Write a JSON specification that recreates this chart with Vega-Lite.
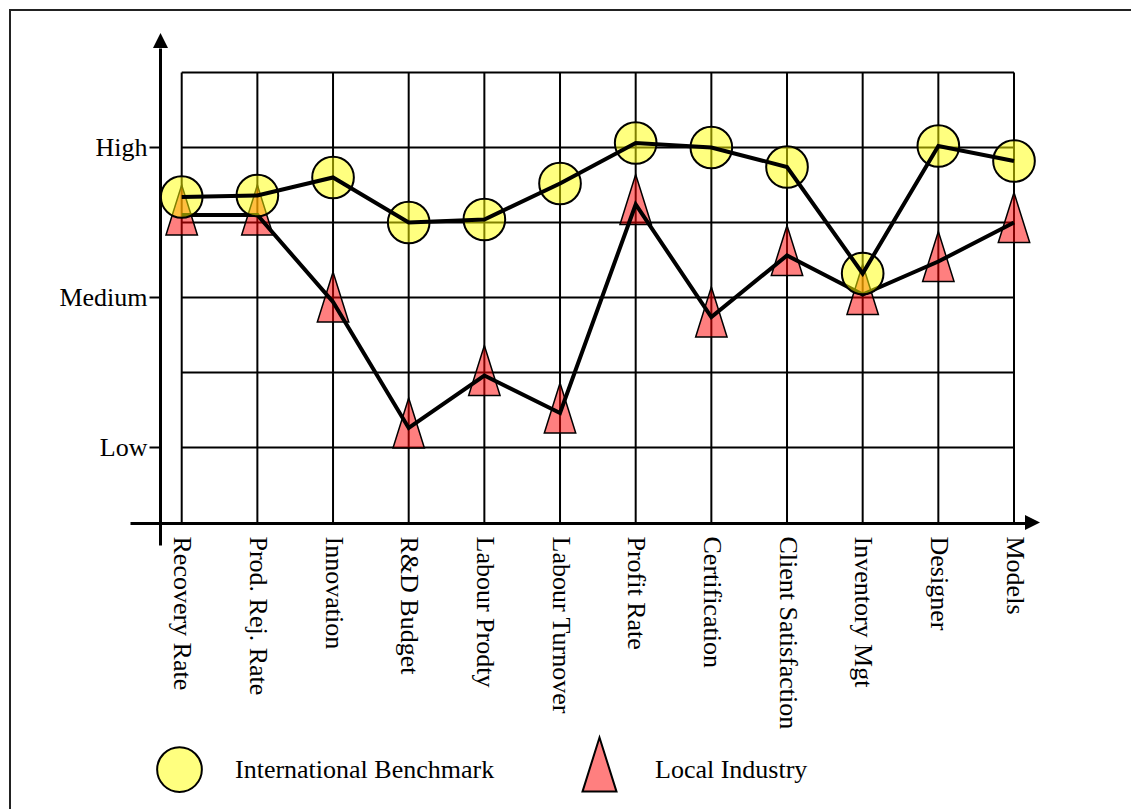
{
  "$schema": "https://vega.github.io/schema/vega-lite/v6.json",
  "width": 1131,
  "height": 806,
  "autosize": {"type": "none"},
  "padding": {"left": 10, "top": 10, "right": -10, "bottom": -7},
  "background": "white",
  "config": {
    "view": {"stroke": "#222222", "strokeWidth": 2},
    "font": "Liberation Serif",
    "axis": {"labelFont": "Liberation Serif", "labelFontSize": 26, "labelColor": "black", "domainColor": "black", "tickColor": "black", "grid": false},
    "legend": {"labelFont": "Liberation Serif", "labelFontSize": 26, "labelColor": "black", "symbolSize": 2000, "symbolStrokeColor": "black", "symbolStrokeWidth": 2, "labelOffset": 32, "columnPadding": 81, "padding": 0, "labelLimit": 500}
  },
  "datasets": {
    "scores": [
      {"category": "Recovery Rate", "series": "International Benchmark", "value": 2.67},
      {"category": "Prod. Rej. Rate", "series": "International Benchmark", "value": 2.68},
      {"category": "Innovation", "series": "International Benchmark", "value": 2.8},
      {"category": "R&D Budget", "series": "International Benchmark", "value": 2.5},
      {"category": "Labour Prodty", "series": "International Benchmark", "value": 2.52},
      {"category": "Labour Turnover", "series": "International Benchmark", "value": 2.76},
      {"category": "Profit Rate", "series": "International Benchmark", "value": 3.03},
      {"category": "Certification", "series": "International Benchmark", "value": 3.0},
      {"category": "Client Satisfaction", "series": "International Benchmark", "value": 2.87},
      {"category": "Inventory Mgt", "series": "International Benchmark", "value": 2.16},
      {"category": "Designer", "series": "International Benchmark", "value": 3.01},
      {"category": "Models", "series": "International Benchmark", "value": 2.91},
      {"category": "Recovery Rate", "series": "Local Industry", "value": 2.55},
      {"category": "Prod. Rej. Rate", "series": "Local Industry", "value": 2.55},
      {"category": "Innovation", "series": "Local Industry", "value": 1.97},
      {"category": "R&D Budget", "series": "Local Industry", "value": 1.13},
      {"category": "Labour Prodty", "series": "Local Industry", "value": 1.48},
      {"category": "Labour Turnover", "series": "Local Industry", "value": 1.23},
      {"category": "Profit Rate", "series": "Local Industry", "value": 2.62},
      {"category": "Certification", "series": "Local Industry", "value": 1.87},
      {"category": "Client Satisfaction", "series": "Local Industry", "value": 2.28},
      {"category": "Inventory Mgt", "series": "Local Industry", "value": 2.02},
      {"category": "Designer", "series": "Local Industry", "value": 2.24},
      {"category": "Models", "series": "Local Industry", "value": 2.5}
    ],
    "gridlines": [{"level": 1}, {"level": 1.5}, {"level": 2}, {"level": 2.5}, {"level": 3}, {"level": 3.5}],
    "anchor": [{"note": "arrow"}]
  },
  "data": {"name": "scores"},
  "layer": [
    {
      "transform": [{"filter": "datum.series === 'Local Industry'"}],
      "mark": {"type": "rule", "stroke": "black", "strokeWidth": 2},
      "encoding": {
        "x": {
          "field": "category", "type": "nominal",
          "scale": {"type": "point", "domain": ["Recovery Rate", "Prod. Rej. Rate", "Innovation", "R&D Budget", "Labour Prodty", "Labour Turnover", "Profit Rate", "Certification", "Client Satisfaction", "Inventory Mgt", "Designer", "Models"], "range": [120, 1020], "padding": 0.4474, "align": 0.7637, "round": false},
          "axis": {"title": null, "orient": "bottom", "offset": -293, "ticks": false, "tickSize": 0, "labelAngle": 90, "labelAlign": "left", "labelBaseline": "middle", "labelPadding": 13, "labelLimit": 500, "labelOverlap": false, "labelBound": false, "labelFlush": false, "domainWidth": 3, "grid": false}
        },
        "y": {
          "datum": 0.5, "type": "quantitative",
          "scale": {"domain": [0.35, 3.6633], "range": [535, 38], "nice": false, "zero": false},
          "axis": {"title": null, "orient": "left", "offset": -150, "values": [1, 2, 3], "labelExpr": "datum.value == 3 ? 'High\u00a0' : datum.value == 2 ? 'Medium' : 'Low\u00a0'", "tickSize": 11, "tickWidth": 2, "labelPadding": 2, "domainWidth": 3, "grid": false}
        },
        "y2": {"datum": 3.5}
      }
    },
    {
      "data": {"name": "gridlines"},
      "mark": {"type": "rule", "stroke": "black", "strokeWidth": 2},
      "encoding": {
        "x": {"datum": "Recovery Rate", "type": "nominal"},
        "x2": {"datum": "Models"},
        "y": {"field": "level", "type": "quantitative"}
      }
    },
    {
      "transform": [{"filter": "datum.series === 'Local Industry'"}],
      "mark": {"type": "point", "filled": true, "opacity": 1, "fillOpacity": 0.5, "stroke": "black", "strokeWidth": 1.5, "size": 1707},
      "encoding": {
        "x": {"field": "category", "type": "nominal"},
        "y": {"field": "value", "type": "quantitative"},
        "fill": {"field": "series", "type": "nominal", "scale": {"domain": ["International Benchmark", "Local Industry"], "range": ["#ffff00", "#ff0000"]}, "legend": {"title": null, "orient": "none", "legendX": 146, "legendY": 736, "direction": "horizontal", "labelFont": "Liberation Serif", "labelFontSize": 26, "labelColor": "black", "symbolStrokeColor": "black", "symbolStrokeWidth": 2, "encoding": {"symbols": {"fillOpacity": {"value": 0.5}, "stroke": {"value": "black"}, "strokeWidth": {"value": 2}}, "labels": {"font": {"value": "Liberation Serif"}, "fontSize": {"value": 26}, "fill": {"value": "black"}}}}},
        "shape": {"field": "series", "type": "nominal", "scale": {"domain": ["International Benchmark", "Local Industry"], "range": ["circle", "M0,-1.45L0.76,0.97L-0.76,0.97Z"]}, "legend": {"title": null, "orient": "none", "legendX": 146, "legendY": 736, "direction": "horizontal", "labelFont": "Liberation Serif", "labelFontSize": 26, "labelColor": "black", "symbolStrokeColor": "black", "symbolStrokeWidth": 2, "encoding": {"symbols": {"fillOpacity": {"value": 0.5}, "stroke": {"value": "black"}, "strokeWidth": {"value": 2}}, "labels": {"font": {"value": "Liberation Serif"}, "fontSize": {"value": 26}, "fill": {"value": "black"}}}}}
      }
    },
    {
      "transform": [{"filter": "datum.series === 'Local Industry'"}],
      "mark": {"type": "line", "stroke": "black", "strokeWidth": 4},
      "encoding": {
        "x": {"field": "category", "type": "nominal"},
        "y": {"field": "value", "type": "quantitative"},
        "order": {"value": null}
      }
    },
    {
      "transform": [{"filter": "datum.series === 'International Benchmark'"}],
      "mark": {"type": "point", "filled": true, "opacity": 1, "fillOpacity": 0.5, "stroke": "black", "strokeWidth": 2, "size": 1735},
      "encoding": {
        "x": {"field": "category", "type": "nominal"},
        "y": {"field": "value", "type": "quantitative"},
        "fill": {"field": "series", "type": "nominal"},
        "shape": {"field": "series", "type": "nominal"}
      }
    },
    {
      "transform": [{"filter": "datum.series === 'International Benchmark'"}],
      "mark": {"type": "line", "stroke": "black", "strokeWidth": 4},
      "encoding": {
        "x": {"field": "category", "type": "nominal"},
        "y": {"field": "value", "type": "quantitative"},
        "order": {"value": null}
      }
    },
    {
      "data": {"name": "anchor"},
      "mark": {"type": "point", "filled": true, "opacity": 1, "fill": "black", "strokeWidth": 0, "size": 400, "shape": "M-2.12,-1.5L-1.37,0L-2.87,0Z"},
      "encoding": {
        "x": {"datum": "Recovery Rate", "type": "nominal"},
        "y": {"datum": 3.6633, "type": "quantitative"}
      }
    },
    {
      "data": {"name": "anchor"},
      "mark": {"type": "point", "filled": true, "opacity": 1, "fill": "black", "strokeWidth": 0, "size": 400, "shape": "M1.1,-0.75L2.6,0L1.1,0.75Z"},
      "encoding": {
        "x": {"datum": "Models", "type": "nominal"},
        "y": {"datum": 0.5, "type": "quantitative"}
      }
    }
  ]
}
